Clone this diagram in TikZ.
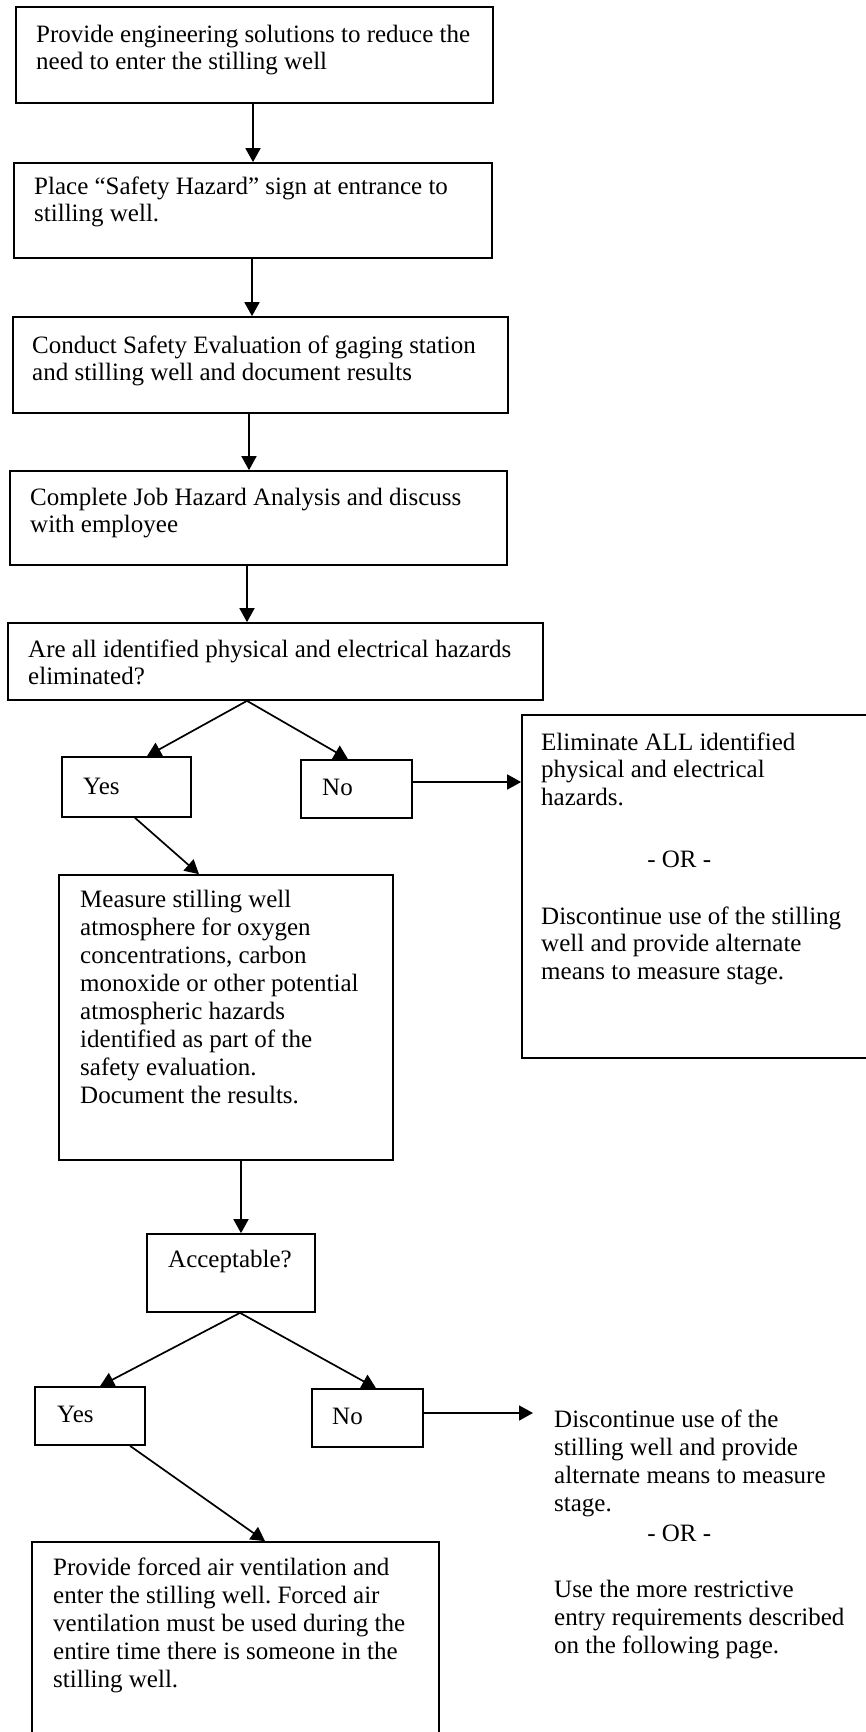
\documentclass[tikz,border=0pt]{standalone}
\usepackage{fontspec}
\setmainfont{Liberation Serif}
\usetikzlibrary{arrows.meta}
\tikzset{
  box/.style={draw, line width=1.7pt, inner sep=0pt, rectangle},
  txt/.style={anchor=base west, inner sep=0pt, font=\fontsize{25}{27.5}\selectfont},
  txtb/.style={anchor=base west, inner sep=0pt, font=\fontsize{25}{28}\selectfont},
  arr/.style={line width=1.7pt, -{Triangle[length=14pt,width=15pt]}}
}
\frenchspacing
\begin{document}
\frenchspacing
\begin{tikzpicture}[x=1pt,y=-1pt]
\useasboundingbox (0,0) rectangle (866,1732);
\clip (0,0) rectangle (866,1732);
% boxes
\node[box, minimum width=477pt, minimum height=96pt] (b1) at (254.5,55) {};
\node[box, minimum width=478pt, minimum height=95pt] (b2) at (253,210.5) {};
\node[box, minimum width=495pt, minimum height=96pt] (b3) at (260.5,365) {};
\node[box, minimum width=497pt, minimum height=94pt] (b4) at (258.5,518) {};
\node[box, minimum width=535pt, minimum height=77pt] (b5) at (275.5,661.5) {};
\node[box, minimum width=129pt, minimum height=60pt] (yes1) at (126.5,787) {};
\node[box, minimum width=111pt, minimum height=58pt] (no1) at (356.5,789) {};
\node[box, minimum width=358pt, minimum height=343pt] (elim) at (701,886.5) {};
\node[box, minimum width=334pt, minimum height=285pt] (meas) at (226,1017.5) {};
\node[box, minimum width=168pt, minimum height=78pt] (acc) at (231,1273) {};
\node[box, minimum width=110pt, minimum height=58pt] (yes2) at (90,1416) {};
\node[box, minimum width=111pt, minimum height=58pt] (no2) at (367.5,1418) {};
\node[box, minimum width=407pt, minimum height=203pt] (forced) at (235.5,1643.5) {};
% texts
\node[txt] (t1) at (36,42) {\parbox[t]{520pt}{\raggedright Provide engineering solutions to reduce the\\need to enter the stilling well}};
\node[txt] (t2) at (34,194) {\parbox[t]{520pt}{\raggedright Place “Safety Hazard” sign at entrance to\\stilling well.}};
\node[txt] (t3) at (32,353) {\parbox[t]{520pt}{\raggedright Conduct Safety Evaluation of gaging station\\and stilling well and document results}};
\node[txt] (t4) at (30,505) {\parbox[t]{520pt}{\raggedright Complete Job Hazard Analysis and discuss\\with employee}};
\node[txt] (t5) at (28,657) {\parbox[t]{520pt}{\raggedright Are all identified physical and electrical hazards\\eliminated?}};
\node[txt] (ty1) at (83,794) {Yes};
\node[txt] (tn1) at (322,795) {No};
\node[txt] (te) at (541,750) {\parbox[t]{330pt}{\raggedright Eliminate ALL identified\\physical and electrical\\hazards.\\[34.5pt]\makebox[276pt][c]{- OR -}\\[29.5pt]Discontinue use of the stilling\\well and provide alternate\\means to measure stage.}};
\node[txtb] (tm) at (80,907) {\parbox[t]{320pt}{\raggedright Measure stilling well\\atmosphere for oxygen\\concentrations, carbon\\monoxide or other potential\\atmospheric hazards\\identified as part of the\\safety evaluation.\\Document the results.}};
\node[txt] (ta) at (168,1267) {Acceptable?};
\node[txt] (ty2) at (57,1422) {Yes};
\node[txt] (tn2) at (332,1424) {No};
\node[txtb] (td) at (554,1427) {\parbox[t]{320pt}{\raggedright Discontinue use of the\\stilling well and provide\\alternate means to measure\\stage.\\[2pt]\makebox[250pt][c]{- OR -}\\[28pt]Use the more restrictive\\entry requirements described\\on the following page.}};
\node[txtb] (tf) at (53,1575) {\parbox[t]{400pt}{\raggedright Provide forced air ventilation and\\enter the stilling well. Forced air\\ventilation must be used during the\\entire time there is someone in the\\stilling well.}};
\coordinate (dIn) at (533,1413);
% connectors
\draw[arr] (b1.south -| 253,0) -- (b2.north -| 253,0);
\draw[arr] (b2.south -| 252,0) -- (b3.north -| 252,0);
\draw[arr] (b3.south -| 249,0) -- (b4.north -| 249,0);
\draw[arr] (b4.south -| 247,0) -- (b5.north -| 247,0);
\draw[arr] (b5.south -| 247,0) -- (yes1.north -| 147,0);
\draw[arr] (b5.south -| 247,0) -- (no1.north -| 348,0);
\draw[arr] (no1.east |- 0,782) -- (elim.west |- 0,782);
\draw[arr] (yes1.south -| 135,0) -- (meas.north -| 199,0);
\draw[arr] (meas.south -| 241,0) -- (acc.north -| 241,0);
\draw[arr] (acc.south -| 240,0) -- (yes2.north -| 100,0);
\draw[arr] (acc.south -| 240,0) -- (no2.north -| 376,0);
\draw[arr] (no2.east |- dIn) -- (dIn);
\draw[arr] (yes2.south -| 130,0) -- (forced.north -| 265,0);
\end{tikzpicture}
\end{document}
